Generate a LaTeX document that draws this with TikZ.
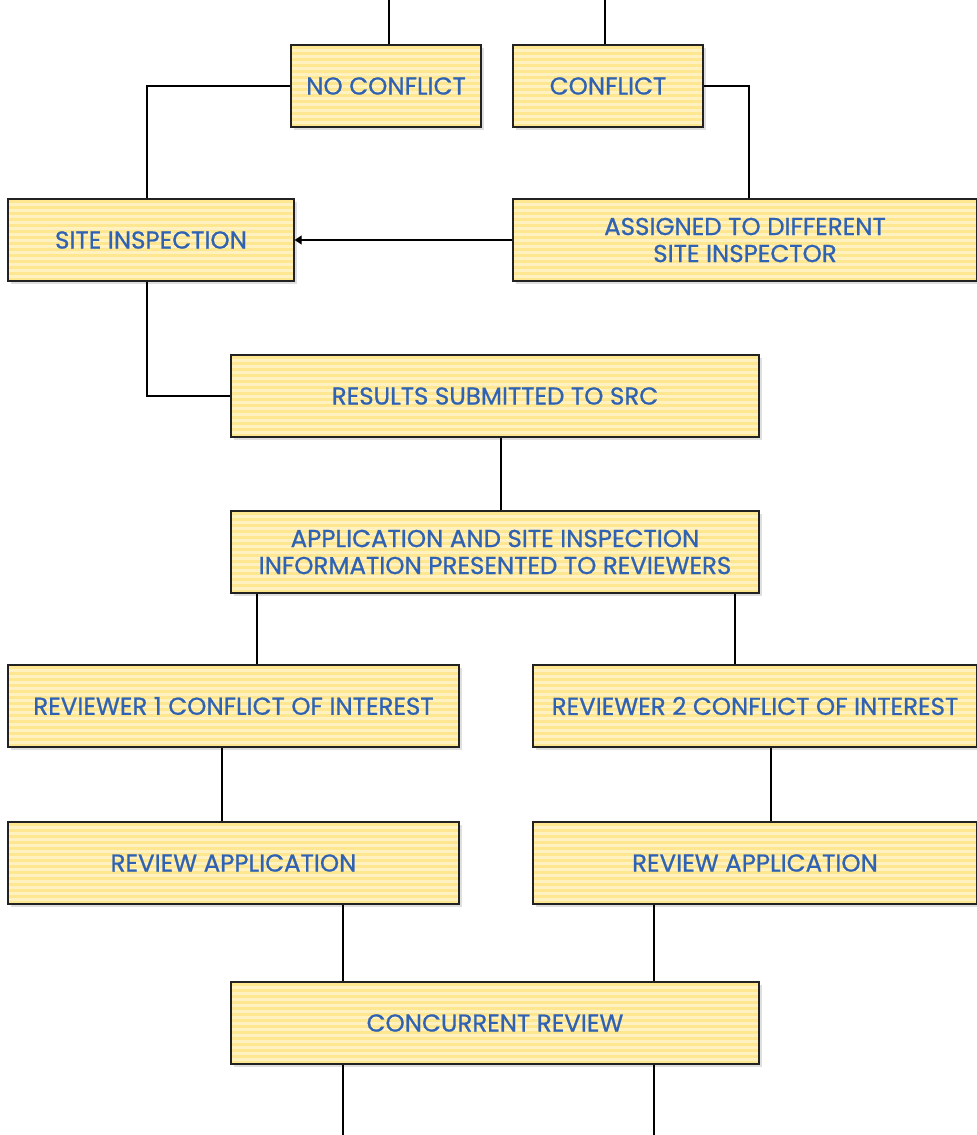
\documentclass[tikz,border=0pt]{standalone}
\usepackage{fontspec}
\setmainfont{Poppins}
\newfontfamily\boxfont{Poppins}[FakeBold=0.8]
\usetikzlibrary{shadows,arrows.meta}
\definecolor{boxbase}{HTML}{FFF2C0}
\definecolor{boxstripe}{HTML}{FFE690}
\definecolor{boxtext}{HTML}{2F62B3}
\definecolor{boxline}{HTML}{222222}
\tikzset{
  flowbox/.style={draw=boxline, line width=1.4pt, fill=boxbase, rectangle, inner sep=0pt,
    minimum height=82pt, align=center, text=boxtext, font=\boxfont\fontsize{24.5}{27}\selectfont,
    drop shadow={shadow xshift=3pt, shadow yshift=-3pt, opacity=0.25},
    path picture={
      \foreach \i in {0,...,14}{
        \fill[boxstripe] ([yshift=-\i*6pt-1pt]path picture bounding box.north west) rectangle ++(1000pt,-3pt);
      }
    }},
  conn/.style={draw=black, line width=1.2pt},
}
\begin{document}
\begin{tikzpicture}[x=1pt,y=-1pt]
\useasboundingbox (0,0) rectangle (977,1135);
\node[flowbox, minimum width=190pt] (nc) at (386,86) {NO CONFLICT};
\node[flowbox, minimum width=190pt] (cf) at (608,86) {CONFLICT};
\node[flowbox, minimum width=286pt] (si) at (151,240) {SITE INSPECTION};
\node[flowbox, minimum width=464pt] (as) at (745,240) {ASSIGNED TO DIFFERENT\\SITE INSPECTOR};
\node[flowbox, minimum width=528pt] (rs) at (495,396) {RESULTS SUBMITTED TO SRC};
\node[flowbox, minimum width=528pt] (ap) at (495,552) {APPLICATION AND SITE INSPECTION\\INFORMATION PRESENTED TO REVIEWERS};
\node[flowbox, minimum width=451pt] (r1) at (233.5,706) {REVIEWER 1 CONFLICT OF INTEREST};
\node[flowbox, minimum width=444pt] (r2) at (755,706) {REVIEWER 2 CONFLICT OF INTEREST};
\node[flowbox, minimum width=451pt] (ra1) at (233.5,863) {REVIEW APPLICATION};
\node[flowbox, minimum width=444pt] (ra2) at (755,863) {REVIEW APPLICATION};
\node[flowbox, minimum width=528pt] (cr) at (495,1023) {CONCURRENT REVIEW};
\coordinate (t1) at (389,0);
\coordinate (t2) at (605,0);
\coordinate (b1) at (343,1135);
\coordinate (b2) at (654,1135);
\draw[conn] (t1) -- (t1 |- nc.north);
\draw[conn] (t2) -- (t2 |- cf.north);
\draw[conn] (nc.west) -| ([xshift=-4pt]si.north);
\draw[conn] (cf.east) -| ([xshift=4pt]as.north);
\draw[conn, -{Triangle[length=7pt,width=9pt]}] (as.west) -- (si.east);
\draw[conn] ([xshift=-4pt]si.south) |- (rs.west);
\draw[conn] ([xshift=6pt]rs.south) -- ([xshift=6pt]ap.north);
\draw[conn] ([xshift=-238pt]ap.south) -- ([xshift=23.5pt]r1.north);
\draw[conn] ([xshift=240pt]ap.south) -- ([xshift=-20pt]r2.north);
\draw[conn] ([xshift=-11.5pt]r1.south) -- ([xshift=-11.5pt]ra1.north);
\draw[conn] ([xshift=16pt]r2.south) -- ([xshift=16pt]ra2.north);
\draw[conn] ([xshift=109.5pt]ra1.south) -- ([xshift=-152pt]cr.north);
\draw[conn] ([xshift=-101pt]ra2.south) -- ([xshift=159pt]cr.north);
\draw[conn] (b1 |- cr.south) -- (b1);
\draw[conn] (b2 |- cr.south) -- (b2);
\end{tikzpicture}
\end{document}
